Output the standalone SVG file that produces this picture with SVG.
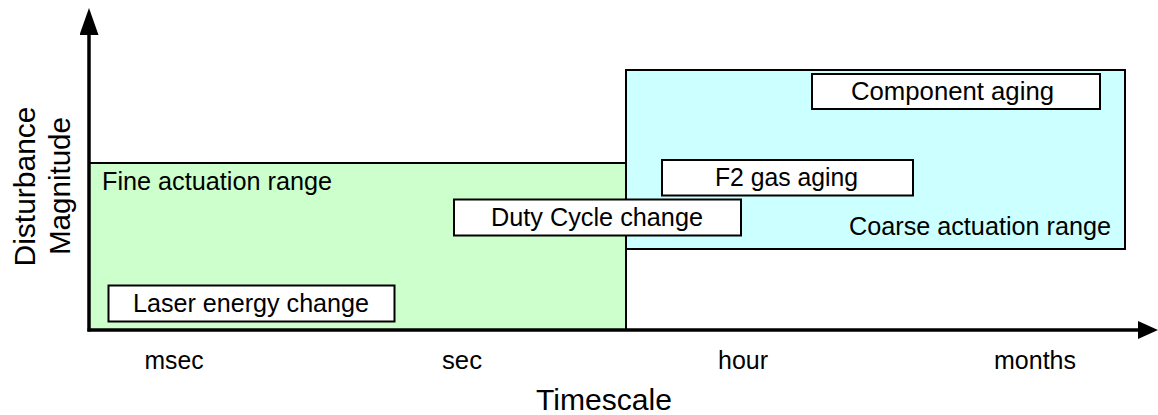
<svg xmlns="http://www.w3.org/2000/svg" width="1158" height="415" viewBox="0 0 1158 415">
<style>
text{font-family:"Liberation Sans",Arial,sans-serif;fill:#000}
.t{font-size:26.5px}
.tm{font-size:26.5px;text-anchor:middle}
.big{font-size:30px;text-anchor:middle}
.range{stroke:#000;stroke-width:2}
.box{fill:#fff;stroke:#000;stroke-width:2}
.axis{stroke:#000;stroke-width:3.5;fill:none}
</style>
<defs>
<marker id="ahv" viewBox="0 0 27 19" refX="0" refY="9.5" markerWidth="27" markerHeight="19" markerUnits="userSpaceOnUse" orient="auto">
<path d="M0,0 L27,9.5 L0,19 Z" fill="#000"/>
</marker>
<marker id="ahh" viewBox="0 0 20 18" refX="0" refY="9" markerWidth="20" markerHeight="18" markerUnits="userSpaceOnUse" orient="auto">
<path d="M0,0 L20,9 L0,18 Z" fill="#000"/>
</marker>
</defs>
<g id="fine-range">
<rect x="89" y="163" width="537" height="167" fill="#CCFFCC" class="range"/>
<text class="t" x="102" y="190" textLength="230" lengthAdjust="spacingAndGlyphs">Fine actuation range</text>
</g>
<g id="coarse-range">
<rect x="626" y="70" width="499" height="179" fill="#CCFFFF" class="range"/>
<text class="t" x="849" y="235" textLength="262" lengthAdjust="spacingAndGlyphs">Coarse actuation range</text>
</g>
<g id="component-aging">
<rect x="812" y="74" width="288" height="35" class="box"/>
<text class="t" x="851" y="100" textLength="203" lengthAdjust="spacingAndGlyphs">Component aging</text>
</g>
<g id="f2-gas-aging">
<rect x="662" y="160" width="251" height="35.5" class="box"/>
<text class="t" x="715" y="186" textLength="143" lengthAdjust="spacingAndGlyphs">F2 gas aging</text>
</g>
<g id="duty-cycle">
<rect x="454" y="199.5" width="287" height="36" class="box"/>
<text class="t" x="491" y="226" textLength="212" lengthAdjust="spacingAndGlyphs">Duty Cycle change</text>
</g>
<g id="laser-energy">
<rect x="108.5" y="285.5" width="286" height="36" class="box"/>
<text class="t" x="133" y="312" textLength="236" lengthAdjust="spacingAndGlyphs">Laser energy change</text>
</g>
<g id="connectors">
<line x1="89" y1="331.5" x2="89" y2="35" class="axis" marker-end="url(#ahv)"/>
<line x1="87.5" y1="330" x2="1138" y2="330" class="axis" marker-end="url(#ahh)"/>
</g>
<g id="labels">
<text class="tm" x="174" y="369" textLength="59" lengthAdjust="spacingAndGlyphs">msec</text>
<text class="tm" x="462" y="369" textLength="40" lengthAdjust="spacingAndGlyphs">sec</text>
<text class="tm" x="743" y="369" textLength="50" lengthAdjust="spacingAndGlyphs">hour</text>
<text class="tm" x="1035" y="369" textLength="82" lengthAdjust="spacingAndGlyphs">months</text>
<text class="big" x="604" y="410" textLength="136" lengthAdjust="spacingAndGlyphs">Timescale</text>
<text class="big" transform="translate(35,186.5) rotate(-90)" textLength="160" lengthAdjust="spacingAndGlyphs">Disturbance</text>
<text class="big" transform="translate(69.5,186) rotate(-90)" textLength="138" lengthAdjust="spacingAndGlyphs">Magnitude</text>
</g>
</svg>
